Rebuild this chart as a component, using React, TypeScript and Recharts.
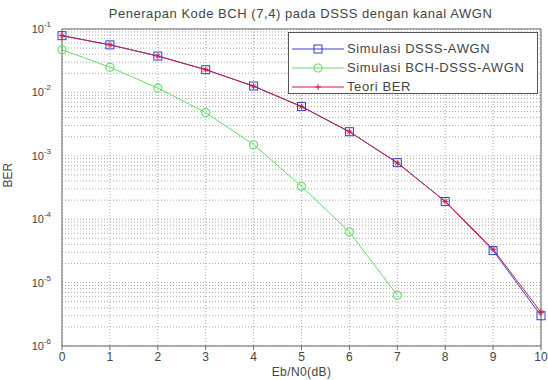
import React from "react"
import {
  CartesianGrid,
  Line,
  LineChart,
  ReferenceLine,
  XAxis,
  YAxis,
} from "recharts"

const ebn0 = [0, 1, 2, 3, 4, 5, 6, 7, 8, 9, 10]
const dsssAwgn = [0.0785, 0.0562, 0.0374, 0.0228, 0.0126, 0.006, 0.0024, 0.00078, 0.00019, 0.000032, 0.000003]
const bchDsssAwgn = [0.047, 0.025, 0.0117, 0.0048, 0.0015, 0.00033, 0.000063, 0.0000063]
const teoriBer = [0.0786, 0.0563, 0.0375, 0.0229, 0.0125, 0.00595, 0.00239, 0.000773, 0.000191, 0.0000336, 0.0000034]

const decades = [-6, -5, -4, -3, -2, -1]
const mantissas = [1, 2, 3, 4, 5, 6, 7, 8, 9]

const data = ebn0.map((x, i) => ({
  x,
  dsss: dsssAwgn[i],
  bch: bchDsssAwgn[i] ?? null,
  teori: teoriBer[i],
}))

const yTicks: number[] = []
decades.forEach((e) => {
  if (e === -1) {
    yTicks.push(Math.pow(10, e))
    return
  }
  mantissas.forEach((m) => yTicks.push(m * Math.pow(10, e)))
})

const FONT = "'Liberation Sans', Arial, sans-serif"
const TEXT = "#444"
const AXIS = "#666"

const BLUE = "#3a3ad0"
const GREEN = "#66dd66"
const RED = "#d0204a"

function isDecade(v: number) {
  const l = Math.log10(v)
  return Math.abs(l - Math.round(l)) < 1e-9
}

function YTick({ x, y, payload }: any) {
  const v = payload.value
  if (!isDecade(v)) return <g />
  const exp = Math.round(Math.log10(v))
  return (
    <text x={x - 3} y={y + 4} textAnchor="end" fontFamily={FONT} fontSize={11} fill={TEXT}>
      10
      <tspan dy={-6} fontSize={8}>
        {exp}
      </tspan>
    </text>
  )
}

function SquareDot({ cx, cy }: any) {
  if (cx == null || cy == null) return <g />
  return <rect x={cx - 4} y={cy - 4} width={8} height={8} fill="none" stroke={BLUE} strokeWidth={1} />
}

function CircleDot({ cx, cy }: any) {
  if (cx == null || cy == null) return <g />
  return <circle cx={cx} cy={cy} r={4} fill="none" stroke={GREEN} strokeWidth={1.2} />
}

function StarDot({ cx, cy }: any) {
  if (cx == null || cy == null) return <g />
  return (
    <g stroke={RED} strokeWidth={1}>
      <line x1={cx - 3} y1={cy} x2={cx + 3} y2={cy} />
      <line x1={cx} y1={cy - 3} x2={cx} y2={cy + 3} />
      <line x1={cx - 2} y1={cy - 2} x2={cx + 2} y2={cy + 2} />
      <line x1={cx - 2} y1={cy + 2} x2={cx + 2} y2={cy - 2} />
    </g>
  )
}

const legendItems = [
  { label: "Simulasi DSSS-AWGN", color: BLUE, marker: "square" },
  { label: "Simulasi BCH-DSSS-AWGN", color: GREEN, marker: "circle" },
  { label: "Teori BER", color: RED, marker: "star" },
]

function LegendMarker({ marker, color }: { marker: string; color: string }) {
  return (
    <svg width={52} height={10} style={{ display: "block" }}>
      <line x1={0} y1={5} x2={52} y2={5} stroke={color} strokeWidth={1} />
      {marker === "square" && <rect x={22} y={1} width={8} height={8} fill="none" stroke={color} />}
      {marker === "circle" && <circle cx={26} cy={5} r={4} fill="none" stroke={color} strokeWidth={1.2} />}
      {marker === "star" && (
        <g stroke={color}>
          <line x1={23} y1={5} x2={29} y2={5} />
          <line x1={26} y1={2} x2={26} y2={8} />
        </g>
      )}
    </svg>
  )
}

export default function App() {
  return (
    <div style={{ position: "absolute", left: 0, top: 0, width: 548, height: 380, background: "#fff" }}>
      <div
        style={{
          position: "absolute",
          left: 40,
          width: 521,
          top: 6,
          textAlign: "center",
          fontFamily: FONT,
          fontSize: 13,
          letterSpacing: 0.55,
          color: TEXT,
          whiteSpace: "nowrap",
        }}
      >
        Penerapan Kode BCH (7,4) pada DSSS dengan kanal AWGN
      </div>

      <LineChart width={548} height={380} data={data} margin={{ top: 29, right: 7, left: 0, bottom: 0 }}>
        <CartesianGrid stroke="#aaa" strokeDasharray="1 2" />
        <XAxis
          dataKey="x"
          type="number"
          domain={[0, 10]}
          ticks={ebn0}
          height={34}
          stroke={AXIS}
          tickSize={4}
          tick={{ fontFamily: FONT, fontSize: 12, fill: TEXT }}
          label={{
            value: "Eb/N0(dB)",
            position: "insideBottom",
            offset: 4,
            fontFamily: FONT,
            fontSize: 12,
            fill: TEXT,
            letterSpacing: 0.4,
          }}
        />
        <YAxis
          type="number"
          scale="log"
          domain={[1e-6, 1e-1]}
          allowDataOverflow
          ticks={yTicks}
          interval={0}
          width={62}
          stroke={AXIS}
          tickLine={false}
          tick={<YTick />}
          label={{ value: "BER", angle: -90, position: "insideLeft", offset: 8, fontFamily: FONT, fontSize: 12, fill: TEXT }}
        />
        <ReferenceLine y={1e-1} stroke={AXIS} />
        <ReferenceLine x={10} stroke={AXIS} />
        <Line
          dataKey="dsss"
          stroke={BLUE}
          strokeWidth={1}
          dot={<SquareDot />}
          isAnimationActive={false}
        />
        <Line
          dataKey="bch"
          stroke={GREEN}
          strokeWidth={1}
          dot={<CircleDot />}
          connectNulls={false}
          isAnimationActive={false}
        />
        <Line
          dataKey="teori"
          stroke={RED}
          strokeWidth={1}
          dot={<StarDot />}
          isAnimationActive={false}
        />
      </LineChart>

      <div
        style={{
          position: "absolute",
          left: 288,
          top: 32,
          width: 250,
          height: 62,
          border: "1px solid #555",
          background: "#fff",
          padding: "6px 0 0 3px",
          boxSizing: "border-box",
          fontFamily: FONT,
          fontSize: 13,
          letterSpacing: 0.6,
          color: TEXT,
        }}
      >
        {legendItems.map((item) => (
          <div key={item.label} style={{ display: "flex", alignItems: "center", gap: 3, height: 19 }}>
            <LegendMarker marker={item.marker} color={item.color} />
            <span style={{ whiteSpace: "nowrap" }}>{item.label}</span>
          </div>
        ))}
      </div>
    </div>
  )
}
